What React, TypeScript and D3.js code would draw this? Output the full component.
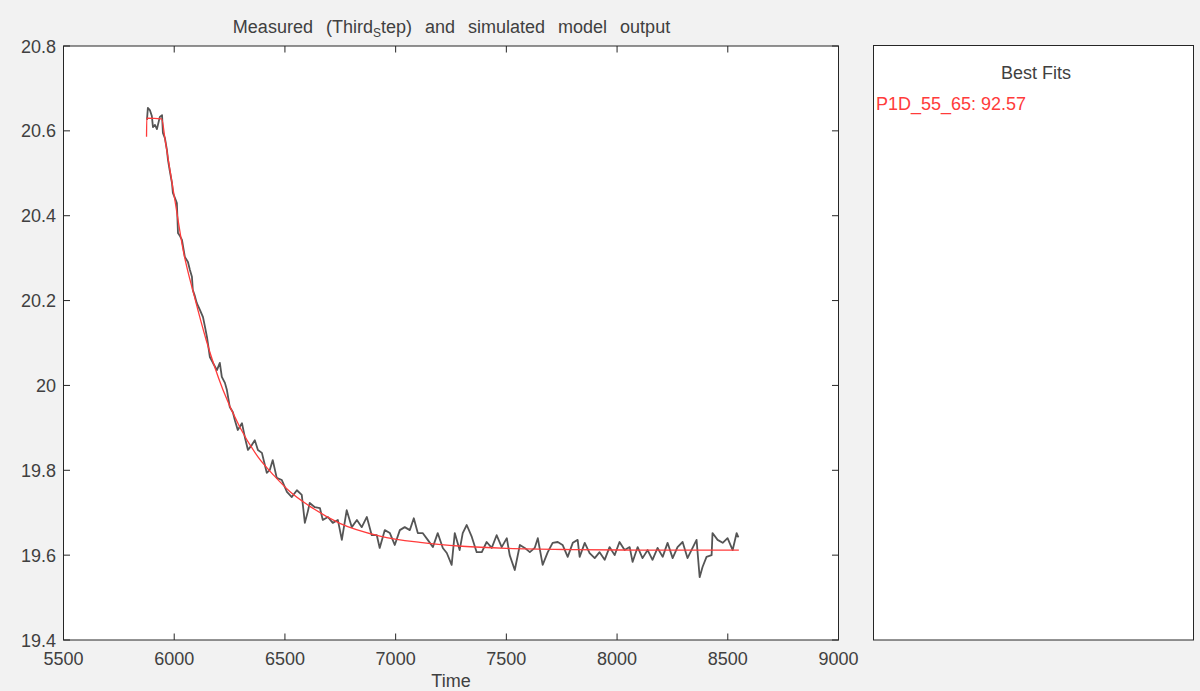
import React from "react";
import * as d3 from "d3";

const xTicks = [5500, 6000, 6500, 7000, 7500, 8000, 8500, 9000];
const yTicks = [19.4, 19.6, 19.8, 20, 20.2, 20.4, 20.6, 20.8];
const yTickLabels = ["19.4", "19.6", "19.8", "20", "20.2", "20.4", "20.6", "20.8"];

const measuredTime = [
  5877, 5881, 5890, 5899, 5904, 5913, 5922, 5935, 5945, 5949, 5958, 5967, 5972, 5981, 5990, 5994,
  6003, 6012, 6017, 6026, 6035, 6048, 6062, 6071, 6080, 6084, 6093, 6102, 6116, 6130, 6139, 6148,
  6161, 6175, 6193, 6206, 6215, 6229, 6238, 6251, 6265, 6274, 6287, 6306, 6319, 6333, 6351, 6364,
  6378, 6396, 6418, 6432, 6445, 6463, 6486, 6509, 6531, 6554, 6576, 6590, 6603, 6612, 6635, 6658,
  6671, 6694, 6716, 6739, 6757, 6779, 6802, 6825, 6847, 6870, 6892, 6915, 6928, 6951, 6974, 6996,
  7019, 7041, 7064, 7082, 7100, 7122, 7145, 7168, 7190, 7213, 7231, 7253, 7267, 7289, 7303, 7321,
  7344, 7366, 7389, 7411, 7434, 7456, 7479, 7502, 7515, 7538, 7561, 7583, 7606, 7628, 7642, 7664,
  7687, 7709, 7732, 7754, 7777, 7800, 7822, 7831, 7854, 7876, 7899, 7921, 7944, 7966, 7989, 8011,
  8034, 8057, 8070, 8093, 8115, 8138, 8160, 8183, 8206, 8228, 8251, 8273, 8296, 8318, 8341, 8359,
  8373, 8386, 8404, 8427, 8431, 8454, 8477, 8499, 8522, 8540, 8548,
];
const measuredValue = [
  20.626, 20.654, 20.649, 20.635, 20.609, 20.614, 20.604, 20.633, 20.637, 20.595, 20.583, 20.555, 20.531, 20.503, 20.477, 20.454,
  20.442, 20.43, 20.359, 20.352, 20.343, 20.303, 20.291, 20.272, 20.256, 20.225, 20.211, 20.194, 20.178, 20.161, 20.138, 20.114,
  20.067, 20.053, 20.036, 20.053, 20.02, 20.006, 19.989, 19.949, 19.937, 19.918, 19.895, 19.911, 19.878, 19.848, 19.86, 19.871,
  19.848, 19.841, 19.794, 19.801, 19.824, 19.782, 19.777, 19.749, 19.737, 19.753, 19.742, 19.676, 19.702, 19.723, 19.713, 19.711,
  19.683, 19.69, 19.676, 19.683, 19.636, 19.706, 19.666, 19.683, 19.666, 19.69, 19.647, 19.647, 19.617, 19.659, 19.652, 19.624,
  19.659, 19.666, 19.659, 19.687, 19.652, 19.652, 19.636, 19.619, 19.652, 19.617, 19.605, 19.577, 19.652, 19.612, 19.652, 19.671,
  19.643, 19.607, 19.607, 19.631, 19.617, 19.647, 19.619, 19.64, 19.6, 19.565, 19.624, 19.617, 19.607, 19.617, 19.64, 19.577,
  19.607, 19.629, 19.631, 19.624, 19.596, 19.629, 19.636, 19.596, 19.629, 19.605, 19.593, 19.607, 19.589, 19.619, 19.6, 19.631,
  19.612, 19.619, 19.584, 19.619, 19.593, 19.612, 19.589, 19.617, 19.596, 19.629, 19.593, 19.619, 19.631, 19.593, 19.617, 19.636,
  19.548, 19.572, 19.596, 19.6, 19.652, 19.636, 19.629, 19.64, 19.612, 19.652, 19.642,
];

const modelTime = [
  5875, 5876, 5943, 5960, 5980, 6002, 6040, 6092, 6145, 6220, 6296, 6379, 6450, 6522, 6613, 6748,
  6929, 7110, 7300, 7500, 7800, 8100, 8550,
];
const modelValue = [
  20.586, 20.63, 20.628, 20.575, 20.51, 20.44, 20.32, 20.208, 20.106, 19.99, 19.902, 19.831, 19.788, 19.75, 19.715, 19.675,
  19.645, 19.63, 19.621, 19.616, 19.613, 19.612, 19.612,
];

const bestFitLabel = "P1D_55_65: 92.57";

const W = 1200;
const H = 691;
const FONT = "'Liberation Sans', Arial, Helvetica, sans-serif";
const AX = "#262626";
const TXT = "#404040";

export default function App() {
  const x = d3.scaleLinear().domain([5500, 9000]).range([63.5, 838.5]);
  const y = d3.scaleLinear().domain([19.4, 20.8]).range([640, 46]);

  const measured = measuredTime.map((t, i) => [t, measuredValue[i]] as [number, number]);
  const model = modelTime.map((t, i) => [t, modelValue[i]] as [number, number]);

  const line = d3
    .line<[number, number]>()
    .x((d) => x(d[0]))
    .y((d) => y(d[1]));
  const smooth = d3
    .line<[number, number]>()
    .x((d) => x(d[0]))
    .y((d) => y(d[1]))
    .curve(d3.curveMonotoneX);

  const [x0, x1] = x.range();
  const [yb, yt] = y.range();
  const tl = 6.5;

  return (
    <div style={{ position: "fixed", left: 0, top: 0 }}>
      <svg width={W} height={H} style={{ display: "block" }}>
        <rect x={0} y={0} width={W} height={H} fill="#f2f2f2" />
        <rect x={x0} y={yt} width={x1 - x0} height={yb - yt} fill="#ffffff" />
        <path d={line(measured) || ""} fill="none" stroke="#555555" strokeWidth={1.8} strokeLinejoin="round" />
        <path d={smooth(model) || ""} fill="none" stroke="#ff3b3b" strokeWidth={1.3} />
        <rect x={x0} y={yt} width={x1 - x0} height={yb - yt} fill="none" stroke={AX} strokeWidth={1} />
        {xTicks.map((t) => (
          <g key={"xt" + t}>
            <line x1={x(t)} x2={x(t)} y1={yb} y2={yb - tl} stroke={AX} />
            <line x1={x(t)} x2={x(t)} y1={yt} y2={yt + tl} stroke={AX} />
            <text x={x(t)} y={665} textAnchor="middle" fontFamily={FONT} fontSize={18} fill={TXT}>
              {String(t)}
            </text>
          </g>
        ))}
        {yTicks.map((v, i) => (
          <g key={"yt" + v}>
            <line x1={x0} x2={x0 + tl} y1={y(v)} y2={y(v)} stroke={AX} />
            <line x1={x1} x2={x1 - tl} y1={y(v)} y2={y(v)} stroke={AX} />
            <text x={56} y={y(v) + 6.5} textAnchor="end" fontFamily={FONT} fontSize={18} fill={TXT}>
              {yTickLabels[i]}
            </text>
          </g>
        ))}
        <text x={451} y={687} textAnchor="middle" fontFamily={FONT} fontSize={18} fill={TXT}>
          Time
        </text>
        <text x={451.5} y={33.4} textAnchor="middle" fontFamily={FONT} fontSize={18} fill={TXT}>
          <tspan>Measured</tspan>
          <tspan dx={8}> (Third</tspan>
          <tspan fontSize={12} dy={4}>S</tspan>
          <tspan dy={-4}>tep)</tspan>
          <tspan dx={8}> and</tspan>
          <tspan dx={8}> simulated</tspan>
          <tspan dx={8}> model</tspan>
          <tspan dx={8}> output</tspan>
        </text>
        <rect x={873.5} y={45.5} width={320} height={594.5} fill="#ffffff" stroke={AX} strokeWidth={1} />
        <text x={1036} y={79.3} textAnchor="middle" fontFamily={FONT} fontSize={18} fill={TXT}>
          Best Fits
        </text>
        <text x={876} y={110} textAnchor="start" fontFamily={FONT} fontSize={18} fill="#ff3b3b">
          {bestFitLabel}
        </text>
      </svg>
    </div>
  );
}
